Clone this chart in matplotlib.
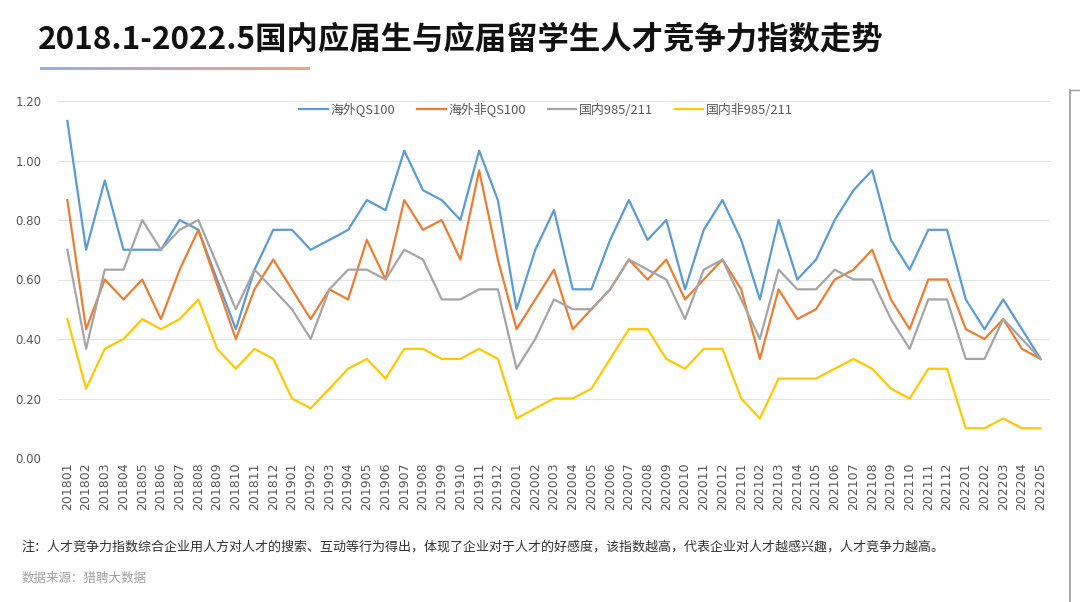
import numpy as np
import matplotlib as mpl
mpl.use("Agg")
import matplotlib.pyplot as plt
from matplotlib.lines import Line2D

plt.rcParams["font.family"] = ["Noto Sans CJK SC", "DejaVu Sans"]

months = [f"{y}{m:02d}" for y in range(2018, 2023) for m in range(1, 13)][:53]

qs100 = [1.133, 0.70, 0.933, 0.70, 0.70, 0.70, 0.80, 0.767, 0.60, 0.433, 0.633, 0.767,
         0.767, 0.70, 0.733, 0.767, 0.867, 0.833, 1.033, 0.90, 0.867, 0.80, 1.033, 0.867,
         0.50, 0.70, 0.833, 0.567, 0.567, 0.733, 0.867, 0.733, 0.80, 0.567, 0.767, 0.867,
         0.733, 0.533, 0.80, 0.60, 0.667, 0.80, 0.90, 0.967, 0.733, 0.633, 0.767, 0.767,
         0.533, 0.433, 0.533, 0.433, 0.333]
non_qs100 = [0.867, 0.433, 0.60, 0.533, 0.60, 0.467, 0.633, 0.767, 0.583, 0.40, 0.567, 0.667,
             0.567, 0.467, 0.567, 0.533, 0.733, 0.60, 0.867, 0.767, 0.80, 0.667, 0.967, 0.667,
             0.433, 0.533, 0.633, 0.433, 0.50, 0.567, 0.667, 0.60, 0.667, 0.533, 0.60, 0.667,
             0.567, 0.333, 0.567, 0.467, 0.50, 0.60, 0.633, 0.70, 0.533, 0.433, 0.60, 0.60,
             0.433, 0.40, 0.467, 0.367, 0.333]
c985 = [0.70, 0.367, 0.633, 0.633, 0.80, 0.70, 0.767, 0.80, 0.65, 0.50, 0.633, 0.567,
        0.50, 0.40, 0.567, 0.633, 0.633, 0.60, 0.70, 0.667, 0.533, 0.533, 0.567, 0.567,
        0.30, 0.40, 0.533, 0.50, 0.50, 0.567, 0.667, 0.633, 0.60, 0.467, 0.633, 0.667,
        0.533, 0.40, 0.633, 0.567, 0.567, 0.633, 0.60, 0.60, 0.467, 0.367, 0.533, 0.533,
        0.333, 0.333, 0.467, 0.40, 0.333]
non_985 = [0.467, 0.233, 0.367, 0.40, 0.467, 0.433, 0.467, 0.533, 0.367, 0.30, 0.367, 0.333,
           0.20, 0.167, 0.233, 0.30, 0.333, 0.267, 0.367, 0.367, 0.333, 0.333, 0.367, 0.333,
           0.133, 0.167, 0.20, 0.20, 0.233, 0.333, 0.433, 0.433, 0.333, 0.30, 0.367, 0.367,
           0.20, 0.133, 0.267, 0.267, 0.267, 0.30, 0.333, 0.30, 0.233, 0.20, 0.30, 0.30,
           0.10, 0.10, 0.133, 0.10, 0.10]

series = [("海外QS100", qs100, "#5B9BD5"),
          ("海外非QS100", non_qs100, "#ED7D31"),
          ("国内985/211", c985, "#A5A5A5"),
          ("国内非985/211", non_985, "#FFC800")]

W, H = 1080, 602
fig = plt.figure(figsize=(W / 100, H / 100), dpi=100)


def fx(px):
    return px / W


def fy(py):
    return 1 - py / H


# title and gradient underline
fig.text(fx(38), fy(40), "2018.1-2022.5国内应届生与应届留学生人才竞争力指数走势",
         fontsize=22.6, fontweight="bold", color="#111111", va="center", ha="left")
gax = fig.add_axes([fx(40), fy(70), fx(270), 3 / H])
grad = np.linspace(0, 1, 256)[None, :]
cmap = mpl.colors.LinearSegmentedColormap.from_list("g", ["#8DB4E2", "#C9A6B8", "#F4A57A"])
gax.imshow(grad, aspect="auto", cmap=cmap)
gax.axis("off")

# main chart
ax = fig.add_axes([fx(58), fy(458), fx(992), (458 - 101) / H])
x = np.arange(len(months))
for name, vals, col in series:
    ax.plot(x, vals, color=col, lw=1.6, label=name)

ax.set_xlim(-0.5, len(months) - 0.5)
ax.set_ylim(0, 1.2)
ax.set_yticks(np.arange(0, 1.21, 0.2))
ax.set_yticklabels([f"{v:.2f}" for v in np.arange(0, 1.21, 0.2)])
ax.set_xticks(x)
ax.set_xticklabels(months, rotation=90, fontsize=9, color="#595959", family="DejaVu Sans")
ax.tick_params(axis="y", labelsize=8.5, labelcolor="#595959", length=0, pad=12)
ax.tick_params(axis="x", length=0, pad=3)
for lab in ax.get_yticklabels():
    lab.set_family("DejaVu Sans")
ax.grid(axis="y", color="#E3E3E3", lw=0.8)
ax.set_axisbelow(True)
for s in ax.spines.values():
    s.set_visible(False)

ax.legend(loc="upper center", bbox_to_anchor=(0.492, 1.027), ncol=4, frameon=False,
          fontsize=9.3, labelcolor="#595959", handlelength=2.2, columnspacing=1.7,
          handletextpad=0.2)

# notes
fig.text(fx(22), fy(547), "注：人才竞争力指数综合企业用人方对人才的搜索、互动等行为得出，体现了企业对于人才的好感度，"
         "该指数越高，代表企业对人才越感兴趣，人才竞争力越高。",
         fontsize=9.4, color="#333333", va="center", ha="left")
fig.text(fx(22), fy(578), "数据来源：猎聘大数据", fontsize=9, color="#A0A0A0", va="center", ha="left")

# side frame line
fig.add_artist(Line2D([fx(1070), fx(1070)], [fy(90), fy(602)], color="#9A9A9A", lw=1.2))
fig.add_artist(Line2D([fx(1070), fx(1080)], [fy(90), fy(90)], color="#9A9A9A", lw=1.0))

fig.savefig("out.png", dpi=100, facecolor="white")
